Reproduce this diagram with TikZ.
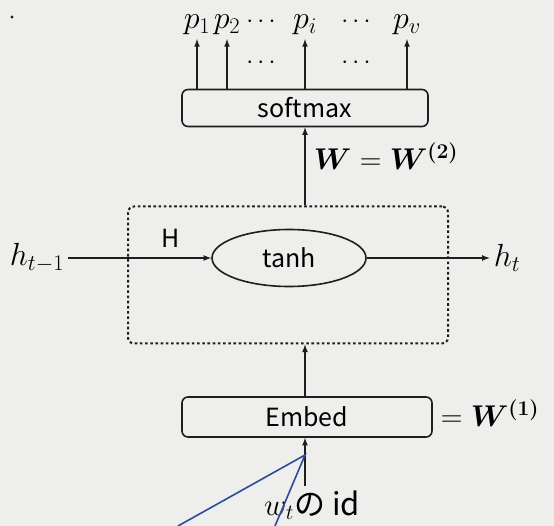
\RequirePackage{fix-cm}
\documentclass[tikz,border=0pt]{standalone}
\usepackage{amsmath,bm}
\usepackage[no-math]{fontspec}
\setmainfont{Noto Sans CJK JP}
\usetikzlibrary{shapes.geometric}
\definecolor{paper}{RGB}{238,238,236}
\definecolor{pen}{RGB}{30,30,30}
\definecolor{ink}{RGB}{45,75,150}
\begin{document}
\begin{tikzpicture}[x=1pt,y=-1pt,->,>=latex,line width=1.6pt,draw=pen,
  font=\fontsize{25}{30}\selectfont]
\tikzset{layer/.style = {draw=pen,rounded corners=6pt,minimum height=37pt,inner sep=0pt},
  wrap/.style = {draw=pen,rounded corners=6pt,line width=2pt,dash pattern=on 2.6pt off 2.6pt,minimum width=320pt,minimum height=137pt},
  sym/.style = {font=\fontsize{32}{36}\selectfont},
  wt/.style = {font=\fontsize{30}{34}\selectfont}}
\useasboundingbox[fill=paper] (0,0) rectangle (554,526);
\fill[pen] (12,17) circle (1.6pt);
% output layer
\node(sm) [layer,minimum width=246pt] at (305,108) {softmax};
\node(p1) [sym] at (197,25) {$p_1$}; \node(p2) [sym] at (227,25) {$p_2$};
\node(pi) [sym] at (305,25) {$p_i$}; \node(pv) [sym] at (407,25) {$p_v$};
\node(d1) at (263,22) {$\cdots$}; \node(d2) at (358,22) {$\cdots$};
\node(d3) at (263,63) {$\cdots$}; \node(d4) at (358,63) {$\cdots$};
\draw[->] (sm.north -| p1) -- (p1.south);
\draw[->] (sm.north -| p2) -- (p2.south);
\draw[->] (sm.north -| pi) -- (pi.south);
\draw[->] (sm.north -| pv) -- (pv.south);
% recurrent part
\node(rnn) [wrap] at (288,275) {};
\node(tanh) [draw=pen,ellipse,minimum width=154pt,minimum height=57pt] at (289,258) {tanh};
\node(hp) [sym] at (37,258) {$h_{t-1}$}; \node(ht) [sym] at (507,258) {$h_t$};
\node(H) at (171,238) {H};
\draw[->] (hp) -- (tanh);
\draw[->] (tanh) -- (ht);
\node(W2) [wt] at (386,156) {$\bm{W}=\bm{W}^{\bm{(2)}}$};
\draw[->] (sm.south |- rnn.north) -- (sm.south);
% input layer
\node(emb) [layer,minimum width=250pt,minimum height=40pt] at (307,417) {Embed};
\node(W1) [wt] at (490,413) {$=\bm{W}^{\bm{(1)}}$};
\draw[->] (emb.north -| sm) -- (rnn.south -| sm);
\node(wid) [font=\fontsize{31}{36}\selectfont] at (312,505) {$w_t$の id};
\draw[->] (wid.north -| sm) -- (emb.south -| sm);
% pointer lines
\coordinate(tip) at (305,455); \coordinate(c1) at (178,526); \coordinate(c2) at (275,526);
\draw[-,ink,line width=1.6pt] (c1) -- (tip) -- (c2);
\end{tikzpicture}
\end{document}
